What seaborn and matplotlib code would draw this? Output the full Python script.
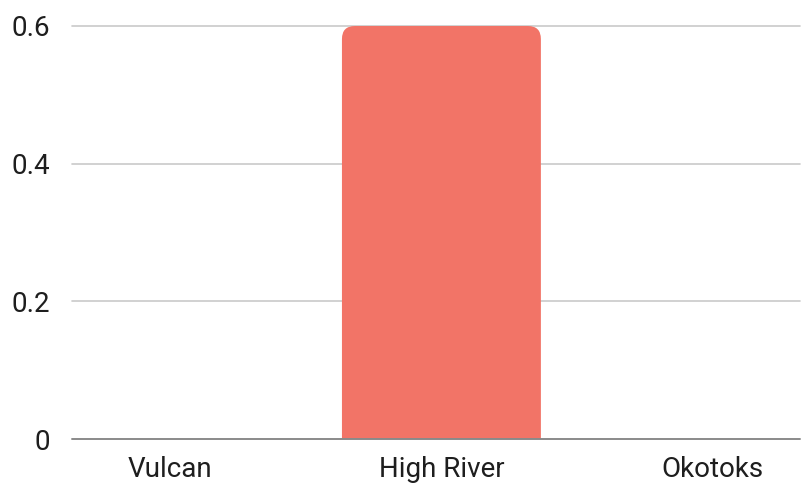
import matplotlib
matplotlib.use("Agg")
import matplotlib.pyplot as plt
from matplotlib.patches import FancyBboxPatch
from matplotlib.ticker import FixedLocator, FixedFormatter
import seaborn as sns
import pandas as pd

# Chart data
towns = ["Vulcan", "High River", "Okotoks"]
values = [0, 0.6, 0]
ytick_values = [0, 0.2, 0.4, 0.6]
ytick_labels = ["0", "0.2", "0.4", "0.6"]

bar_color = "#F27467"

sns.set_theme(style="white")
plt.rcParams["font.family"] = ["Roboto", "DejaVu Sans"]

fig = plt.figure(figsize=(8.01, 4.83), dpi=100)
ax = fig.add_axes([72 / 801, 44 / 483, 728 / 801, 413 / 483])

df = pd.DataFrame({"town": towns, "value": values})
sns.barplot(data=df, x="town", y="value", color=bar_color, width=0.734,
            saturation=1, ax=ax, zorder=3)

ax.set_xlim(-0.363, 2.323)
ax.set_ylim(0, 0.6)

# Give the bars rounded top corners
px_x = 728 / (2.323 + 0.363)
px_y = 413 / 0.6
radius_px = 13
for p in list(ax.patches):
    x0, w, h = p.get_x(), p.get_width(), p.get_height()
    p.remove()
    if h <= 0:
        continue
    extra = 0.1
    box = FancyBboxPatch((x0, -extra), w, h + extra,
                         boxstyle=f"round,pad=0,rounding_size={radius_px / px_x}",
                         mutation_aspect=px_x / px_y,
                         facecolor=bar_color, edgecolor="none", zorder=3)
    ax.add_patch(box)

# Gridlines
for yv in ytick_values[1:]:
    ax.axhline(yv, color="#C9C9C9", lw=1.2, zorder=1, clip_on=False)
ax.axhline(0, color="#8A8A8A", lw=1.4, zorder=4, clip_on=False)

ax.yaxis.set_major_locator(FixedLocator(ytick_values))
ax.yaxis.set_major_formatter(FixedFormatter(ytick_labels))
ax.tick_params(axis="y", length=0, pad=16, labelsize=20, labelcolor="#1E1E1E")
ax.tick_params(axis="x", length=0, pad=12.5, labelsize=20, labelcolor="#1E1E1E")

ax.set_xlabel("")
ax.set_ylabel("")
for s in ax.spines.values():
    s.set_visible(False)

fig.savefig("out.png", dpi=100, facecolor="white")
